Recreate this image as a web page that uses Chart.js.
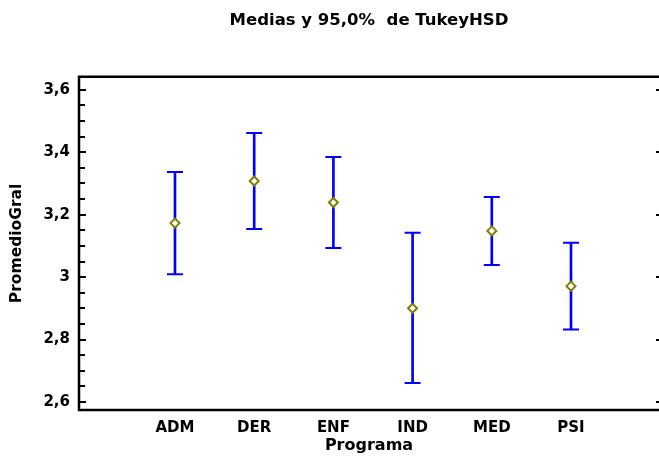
<!DOCTYPE html>
<html><head><meta charset="utf-8">
<script src="https://cdn.jsdelivr.net/npm/chart.js@4.4.1/dist/chart.umd.min.js"></script>
<style>html,body{margin:0;padding:0;background:#fff;overflow:hidden}</style>
</head><body>
<canvas id="c" width="659" height="463" style="display:block"></canvas>
<script>
// ---- data ----
const categories = ['ADM', 'DER', 'ENF', 'IND', 'MED', 'PSI'];
const means       = [3.173, 3.308, 3.239, 2.900, 3.148, 2.971];
const lowerLimits = [3.009, 3.154, 3.093, 2.661, 3.039, 2.832];
const upperLimits = [3.337, 3.462, 3.385, 3.142, 3.257, 3.110];
const yTickValues = [2.6, 2.8, 3.0, 3.2, 3.4, 3.6];
const yTickLabels = ['2,6', '2,8', '3', '3,2', '3,4', '3,6'];
const chartTitle = 'Medias y 95,0%  de TukeyHSD';
const xTitle = 'Programa';
const yTitle = 'PromedioGral';

const FONT = 'DejaVu Sans';
const pts = arr => arr.map((v, i) => ({x: i, y: v}));

const framePlugin = {
  id: 'frame',
  afterDraw(chart) {
    const {ctx, chartArea: a, scales: {y}} = chart;
    ctx.save();
    ctx.strokeStyle = '#000';
    ctx.lineWidth = 2.5;
    ctx.beginPath();
    ctx.moveTo(a.right, a.top); ctx.lineTo(a.left, a.top);
    ctx.lineTo(a.left, a.bottom); ctx.lineTo(a.right, a.bottom);
    ctx.stroke();
    ctx.lineWidth = 2;
    ctx.beginPath();
    for (let k = Math.ceil(y.min / 0.05 - 1e-6); k * 0.05 <= y.max + 1e-9; k++) {
      const py = Math.round(y.getPixelForValue(k * 0.05));
      const major = k % 4 === 0;
      ctx.moveTo(a.left, py); ctx.lineTo(a.left + (major ? 7 : 6), py);
      if (major) { ctx.moveTo(a.right - 3, py); ctx.lineTo(a.right, py); }
    }
    ctx.stroke();
    ctx.restore();
  }
};

new Chart(document.getElementById('c'), {
  type: 'bar',
  data: {
    datasets: [
      {type: 'scatter', label: 'Media', data: pts(means), pointStyle: 'rectRot', pointRadius: 4.5,
       borderColor: '#808000', backgroundColor: '#ffffff', borderWidth: 2, order: 0},
      {type: 'scatter', label: 'Superior', data: pts(upperLimits), pointStyle: 'line', pointRadius: 8,
       borderColor: '#0000ff', borderWidth: 2, order: 1},
      {type: 'scatter', label: 'Inferior', data: pts(lowerLimits), pointStyle: 'line', pointRadius: 8,
       borderColor: '#0000ff', borderWidth: 2, order: 1},
      {type: 'bar', label: 'Intervalo',
       data: categories.map((c, i) => ({x: i, y: [lowerLimits[i], upperLimits[i]]})),
       backgroundColor: '#0000ff', borderWidth: 0, barThickness: 2, order: 2}
    ]
  },
  options: {
    responsive: false, animation: false, devicePixelRatio: 1,
    layout: {padding: {left: 0, right: 0, top: 0, bottom: 0}, autoPadding: false},
    events: [],
    plugins: {
      legend: {display: false}, tooltip: {enabled: false},
      title: {display: true, text: chartTitle, fullSize: false, color: '#000',
              font: {family: FONT, size: 16.5, weight: 'bold', lineHeight: 1.2},
              padding: {top: 11, bottom: 46}}
    },
    scales: {
      x: {
        type: 'linear', min: -1.212, max: 6.111, offset: false, grace: 0,
        grid: {display: false, drawTicks: false, offset: false}, border: {display: false},
        afterBuildTicks: s => { s.ticks = categories.map((c, i) => ({value: i})); },
        afterFit: s => { s.height = 53; s.paddingLeft = 0; s.paddingRight = 0; },
        ticks: {callback: v => categories[v], padding: 9, color: '#000', maxRotation: 0, autoSkip: false,
                font: {family: FONT, size: 15, weight: 'bold', lineHeight: 1.2}},
        title: {display: true, text: xTitle, color: '#000', padding: {top: 0, bottom: 8},
                font: {family: FONT, size: 16, weight: 'bold', lineHeight: 1.2}}
      },
      y: {
        type: 'linear', min: 2.5743, max: 3.6417,
        grid: {display: false, drawTicks: false}, border: {display: false},
        afterBuildTicks: s => { s.ticks = yTickValues.map(v => ({value: v})); },
        afterFit: s => { s.width = 79; s.paddingTop = 0; s.paddingBottom = 0; },
        ticks: {callback: (v, i) => yTickLabels[i], padding: 9, color: '#000', autoSkip: false,
                font: {family: FONT, size: 15, weight: 'bold', lineHeight: 1.2}},
        title: {display: true, text: yTitle, color: '#000', padding: {top: 8, bottom: 0},
                font: {family: FONT, size: 15.5, weight: 'bold', lineHeight: 1.2}}
      }
    }
  },
  plugins: [framePlugin]
});
</script>
</body></html>
